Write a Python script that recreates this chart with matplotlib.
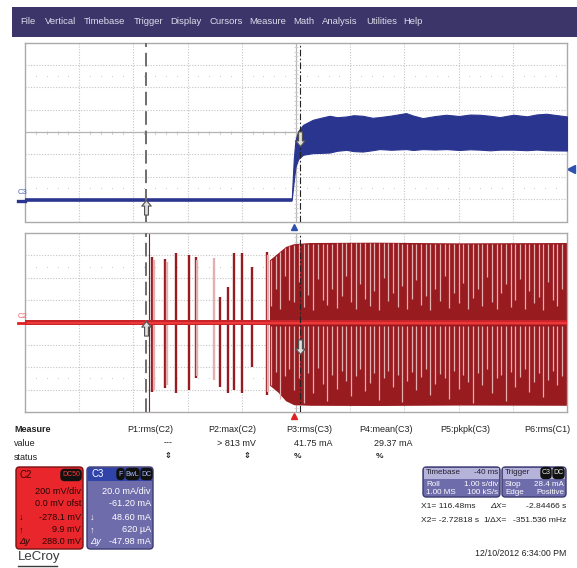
import numpy as np
import matplotlib.pyplot as plt
from matplotlib.patches import Rectangle, FancyBboxPatch
from matplotlib.path import Path
from matplotlib.lines import Line2D
from matplotlib.transforms import blended_transform_factory

plt.rcParams['font.family'] = ['Liberation Sans', 'DejaVu Sans']

W, H = 577, 568

# Roll mode, 1 s/div, trigger delay -40 ms -> 10 divisions on screen
t_left, t_right = -4.96, 5.04
x1_t = 0.11648     # cursor X1 (s)
x2_t = -2.72818    # cursor X2 (s)

# C3: 20 mA/div, offset -61.20 mA
c3_center, c3_div = 61.2, 20.0
c3_x1, c3_x2 = 48.60, 0.62
c3_trig_level = 28.4
# envelope of the switching current after the trigger (mA)
c3_env_t = [-0.04, 0.00, 0.03, 0.08, 0.17, 0.35, 0.50, 0.66, 0.80, 0.97, 1.10, 1.27,
            1.45, 1.58, 1.80, 2.07, 2.20, 2.38, 2.60, 2.81, 3.05, 3.25, 3.43, 3.62,
            3.80, 4.05, 4.30, 4.48, 4.66, 4.85, 5.04]
c3_env_hi = [0.0, 38.0, 54.0, 62.0, 67.7, 72.2, 74.0, 75.8, 74.5, 75.2, 76.3, 75.8,
             74.0, 74.6, 76.0, 78.2, 76.0, 73.7, 75.5, 76.7, 75.6, 76.9, 76.7, 75.8,
             74.6, 76.7, 75.3, 77.0, 77.6, 76.4, 75.2]
c3_env_lo = [0.0, 18.0, 30.0, 37.0, 40.9, 42.4, 42.6, 42.9, 44.5, 45.3, 44.2, 43.8,
             45.0, 46.0, 45.4, 46.0, 45.2, 46.0, 45.6, 46.0, 45.2, 45.8, 45.5, 44.9,
             45.5, 45.5, 45.0, 45.6, 45.0, 44.8, 44.7]

# C2: 200 mV/div, 0 mV offset
c2_div = 200.0
c2_x1, c2_x2 = -278.1, 9.9
# isolated pulses before the burst becomes continuous: time (s), peak (mV), trough (mV)
pulse_t = [-2.68, -2.62, -2.58, -2.37, -2.34, -2.18, -1.94, -1.81, -1.78, -1.48,
           -1.37, -1.21, -1.11, -0.95, -0.78, -0.50, -0.47]
pulse_hi = [900, 585, 560, 567, 540, 620, 603, 585, 560, 576,
            228, 317, 620, 620, 496, 630, 600]
pulse_lo = [-900, -620, -600, -585, -560, -630, -603, -495, -480, -513,
            -573, -630, -603, -630, -397, -647, -620]
pulse_light = [0, 0, 1, 0, 1, 0, 0, 0, 1, 1, 0, 0, 0, 0, 0, 0, 1]
# continuous burst envelope (mV)
burst_t = [-0.45, -0.30, -0.15, 0.00, 0.30, 1.50, 3.00, 5.04]
burst_hi = [560, 620, 680, 705, 715, 718, 712, 715]
burst_lo = [-560, -620, -700, -735, -740, -742, -738, -740]
# lighter gaps between overlapping pulses inside the burst:
# time (s), lowest point of the upper gap, deepest point of the lower gap (mV)
burst_gaps = [-0.42, -0.33, -0.25, -0.16, -0.08, 0.01, 0.10, 0.18, 0.27, 0.36, 0.44,
              0.53, 0.62, 0.70, 0.79, 0.88, 0.96, 1.05, 1.14, 1.22, 1.31, 1.40, 1.48,
              1.57, 1.66, 1.74, 1.83, 1.92, 2.00, 2.09, 2.18, 2.26, 2.35, 2.44, 2.52,
              2.61, 2.70, 2.78, 2.87, 2.96, 3.04, 3.13, 3.22, 3.30, 3.39, 3.48, 3.56,
              3.65, 3.74, 3.82, 3.91, 4.00, 4.08, 4.17, 4.26, 4.34, 4.43, 4.52, 4.60,
              4.69, 4.78, 4.86, 4.95]
gap_top = [150, 300, 120, 420, 200, 180, 360, 140, 250, 110, 390, 200, 160, 300, 130, 240,
           420, 180, 120, 340, 210, 150, 280, 110, 400, 190, 260, 140, 330, 120, 210, 380,
           160, 240, 110, 300, 190, 420, 130, 260, 170, 350, 120, 220, 300, 150, 410, 180,
           120, 260, 340, 140, 200, 390, 120, 280, 170, 230, 110, 360, 200, 150, 300]
gap_bot = [-560, -440, -680, -480, -420, -600, -500, -720, -450, -630, -410, -550, -700,
           -470, -590, -430, -520, -660, -480, -420, -610, -540, -450, -690, -500, -430,
           -580, -470, -710, -520, -440, -600, -490, -420, -650, -550, -460, -500, -680,
           -430, -590, -470, -530, -720, -450, -560, -420, -630, -500, -470, -700, -440,
           -580, -490, -420, -620, -530, -450, -670, -510, -430, -560, -480]

menu_items = ['File', 'Vertical', 'Timebase', 'Trigger', 'Display', 'Cursors',
              'Measure', 'Math', 'Analysis', 'Utilities', 'Help']
menu_x = [20, 45, 84, 134, 170, 209, 249, 293, 322, 366, 403]

meas_names = ['P1:rms(C2)', 'P2:max(C2)', 'P3:rms(C3)', 'P4:mean(C3)', 'P5:pkpk(C3)', 'P6:rms(C1)']
meas_values = ['---', '> 813 mV', '41.75 mA', '29.37 mA', '', '']
meas_status = ['\u21d5', '\u21d5', '%', '%', '', '']
meas_right = [173, 256, 332, 413, 490, 570]
status_x = [168, 247, 297, 379]

blue = '#2a3590'
dark_red = '#981b20'
light_red = '#e2b0b0'
grid_col = '#c4c4c4'

fig = plt.figure(figsize=(W / 100, H / 100), dpi=100)
fig.patch.set_facecolor('white')


def fx(x):
    return x / W


def fy(y):
    return 1 - y / H


def ftext(x, y, s, **kw):
    kw.setdefault('fontsize', 6.5)
    kw.setdefault('color', '#222222')
    kw.setdefault('va', 'center')
    fig.text(fx(x), fy(y), s, **kw)


def graticule(ax, yc, ystep):
    ax.set_xlim(t_left, t_right)
    ax.set_ylim(yc - 4 * ystep, yc + 4 * ystep)
    ax.set_xticks([])
    ax.set_yticks([])
    for s in ax.spines.values():
        s.set_color('#aaaaaa')
        s.set_linewidth(1.0)
    xc = t_left + 5
    for i in range(1, 10):
        if i != 5:
            ax.axvline(t_left + i, color=grid_col, lw=0.8, ls=(0, (1, 1.5)), zorder=0)
    for j in range(-3, 4):
        if j != 0:
            ax.axhline(yc + j * ystep, color=grid_col, lw=0.8, ls=(0, (1, 1.5)), zorder=0)
    ax.axvline(xc, color='#b8b8b8', lw=0.9, zorder=0)
    ax.axhline(yc, color='#b4b4b4', lw=0.9, zorder=0)
    minor_x = [t_left + k * 0.2 for k in range(1, 50) if k % 5]
    minor_y = [yc + k * 0.2 * ystep for k in range(-19, 20) if k % 5]
    ax.vlines(minor_x, yc - 0.07 * ystep, yc + 0.07 * ystep, color='#bcbcbc', lw=0.7, zorder=0)
    ax.hlines(minor_y, xc - 0.035, xc + 0.035, color='#cccccc', lw=0.6, zorder=0)
    for r in (-2.5, 2.5):
        ax.plot(minor_x, [yc + r * ystep] * len(minor_x), ls='none', marker='s',
                ms=0.6, color='#c8c8c8', mew=0, zorder=0)


def arrow_marker(up=True):
    verts = [(0, 0), (1.1, 1.3), (0.45, 1.3), (0.45, 3.4), (-0.45, 3.4), (-0.45, 1.3),
             (-1.1, 1.3), (0, 0)]
    if up:
        verts = [(x, -y) for x, y in verts]
    return Path(verts, closed=True)


def cursors(ax, v1, v2):
    ax.axvline(x2_t, color='#6e6e6e', lw=1.4, dashes=(7, 3), zorder=5)
    ax.axvline(x1_t, color='#222222', lw=0.8, dashes=(6, 2, 1.5, 2), zorder=5)
    ax.plot([x2_t], [v2], marker=arrow_marker(True), ms=21, mfc='#e0e0e0', mec='#505050',
            mew=0.8, ls='none', zorder=8)
    ax.plot([x1_t], [v1], marker=arrow_marker(False), ms=21, mfc='#e0e0e0', mec='#505050',
            mew=0.8, ls='none', zorder=8)


# menu bar
fig.add_artist(Rectangle((fx(12), fy(37)), (W - 12) / W, 30 / H, transform=fig.transFigure,
                         facecolor='#3b3569', edgecolor='none'))
for name, x in zip(menu_items, menu_x):
    ftext(x, 22, name, fontsize=6.8, color='#dcdcec')

# C3 current panel
ax3 = fig.add_axes([fx(25), fy(221.5), 542 / W, 178.8 / H])
graticule(ax3, c3_center, c3_div)
ax3.plot([t_left, c3_env_t[0]], [0, 0], color=blue, lw=2.6, zorder=3, solid_capstyle='butt')
ax3.fill_between(c3_env_t, c3_env_lo, c3_env_hi, color=blue, lw=0.8, edgecolor=blue, zorder=3)
cursors(ax3, c3_x1, c3_x2)
bt = blended_transform_factory(ax3.transData, ax3.transAxes)
ax3.plot([0], [-0.032], transform=bt, marker='^', ms=5, color='#3050b0', clip_on=False)
bt = blended_transform_factory(ax3.transAxes, ax3.transData)
ax3.plot([1.008], [c3_trig_level], transform=bt, marker='<', ms=5.5, color='#3050b0', clip_on=False)
fig.add_artist(Line2D([fx(18), fx(25)], [fy(201), fy(201)], color=blue, lw=2.4))
ftext(18, 193, 'C3', fontsize=5.5, color='#4a62b8')

# C2 voltage panel
ax2 = fig.add_axes([fx(25), fy(412), 542 / W, 179 / H])
graticule(ax2, 0.0, c2_div)
ax2.fill_between(burst_t, burst_lo, burst_hi, color=dark_red, lw=0, zorder=2)
gap_hi = np.interp(burst_gaps, burst_t, burst_hi) - 10
ax2.vlines(burst_gaps, gap_top, gap_hi, color=light_red, lw=0.9, zorder=2)
ax2.vlines(burst_gaps, -30, gap_bot, color=light_red, lw=0.9, zorder=2)
for t, hi, lo, lt in zip(pulse_t, pulse_hi, pulse_lo, pulse_light):
    ax2.vlines(t, lo, hi, color=light_red if lt else dark_red,
               lw=0.8 if hi > 800 else 1.7, zorder=2)
ax2.fill_between([t_left, t_right], [-26, -26], [26, 26], color='#c8242a', lw=0, zorder=3)
ax2.plot([t_left, t_right], [0, 0], color='#ee3a3a', lw=1.4, zorder=3)
cursors(ax2, c2_x1, c2_x2)
bt = blended_transform_factory(ax2.transData, ax2.transAxes)
ax2.plot([0], [-0.022], transform=bt, marker='^', ms=5, color='#e02020', clip_on=False)
fig.add_artist(Line2D([fx(18), fx(25)], [fy(323), fy(323)], color='#e02020', lw=2.0))
ftext(18, 316, 'C2', fontsize=5.5, color='#f06060')

# measurement table
ftext(14, 430, 'Measure', fontweight='bold')
ftext(14, 443, 'value')
ftext(14, 457, 'status')
for name, val, x in zip(meas_names, meas_values, meas_right):
    ftext(x, 430, name, ha='right')
    if val:
        ftext(x, 443, val, ha='right')
for st, x in zip(meas_status, status_x):
    ftext(x, 457, st, ha='center', fontweight='bold', fontsize=6)


def box(x0, y0, x1, y1, face, edge):
    fig.add_artist(FancyBboxPatch((fx(x0), fy(y1)), (x1 - x0) / W, (y1 - y0) / H,
                                  boxstyle='round,pad=0,rounding_size=0.006',
                                  transform=fig.transFigure, facecolor=face,
                                  edgecolor=edge, lw=1.0))


def badge(x0, x1, y, s, fg):
    box(x0, y - 5.5, x1, y + 5.5, '#111111', '#111111')
    ftext((x0 + x1) / 2, y, s, ha='center', color=fg, fontsize=5)


# channel descriptor boxes
box(16, 467, 83, 549, '#e8262b', '#7a1010')
ftext(20, 475, 'C2', color='#3a0505', fontsize=7)
badge(61, 81, 475, 'DC50', '#ff3a3a')
c2_lines = ['200 mV/div', '0.0 mV ofst', '-278.1 mV', '9.9 mV', '288.0 mV']
c3_lines = ['20.0 mA/div', '-61.20 mA', '48.60 mA', '620 \u00b5A', '-47.98 mA']
rows_y = [491, 503.5, 517, 530, 542]
for s, y in zip(c2_lines, rows_y):
    ftext(81, y, s, ha='right', color='#2a0505', fontsize=6.6)
for s, y in zip(['\u2193', '\u2191', '\u0394y'], rows_y[2:]):
    ftext(19, y, s, color='#2a0505', fontsize=6.6,
          fontstyle='italic' if 'y' in s else 'normal')

box(87, 467, 153, 549, '#6f6cab', '#3a3a70')
fig.add_artist(Rectangle((fx(88), fy(481)), 64 / W, 13 / H, transform=fig.transFigure,
                         facecolor='#2f43a8', edgecolor='none'))
ftext(91, 474, 'C3', color='white', fontsize=7)
badge(117, 124, 474, 'F', '#a8bcff')
badge(126, 139, 474, 'BwL', '#a8bcff')
badge(141, 152, 474, 'DC', '#a8bcff')
for s, y in zip(c3_lines, rows_y):
    ftext(151, y, s, ha='right', color='white', fontsize=6.6)
for s, y in zip(['\u2193', '\u2191', '\u0394y'], rows_y[2:]):
    ftext(90, y, s, color='white', fontsize=6.6,
          fontstyle='italic' if 'y' in s else 'normal')

# timebase and trigger boxes
box(423, 467, 500, 497, '#6f6cab', '#3a3a70')
fig.add_artist(Rectangle((fx(424), fy(478.5)), 75 / W, 10.5 / H, transform=fig.transFigure,
                         facecolor='#b6b3da', edgecolor='none'))
tb_kw = dict(fontsize=5.8)
ftext(426, 473, 'Timebase', color='#202030', **tb_kw)
ftext(498, 473, '-40 ms', ha='right', color='#202030', **tb_kw)
ftext(426, 484.5, 'Roll', color='white', **tb_kw)
ftext(498, 484.5, '1.00 s/div', ha='right', color='white', **tb_kw)
ftext(426, 492.5, '1.00 MS', color='white', **tb_kw)
ftext(498, 492.5, '100 kS/s', ha='right', color='white', **tb_kw)

box(502, 467, 566, 497, '#6f6cab', '#3a3a70')
fig.add_artist(Rectangle((fx(503), fy(478.5)), 62 / W, 10.5 / H, transform=fig.transFigure,
                         facecolor='#b6b3da', edgecolor='none'))
ftext(505, 473, 'Trigger', color='#202030', **tb_kw)
badge(541, 551, 473, 'C3', '#e8e8e8')
badge(553, 564, 473, 'DC', '#e8e8e8')
ftext(505, 484.5, 'Stop', color='white', **tb_kw)
ftext(564, 484.5, '28.4 mA', ha='right', color='white', **tb_kw)
ftext(505, 492.5, 'Edge', color='white', **tb_kw)
ftext(564, 492.5, 'Positive', ha='right', color='white', **tb_kw)

# cursor readouts
rd_kw = dict(fontsize=6.1)
ftext(421, 506, 'X1= 116.48ms', **rd_kw)
ftext(490, 506, '\u0394X=', fontstyle='italic', **rd_kw)
ftext(566, 506, '-2.84466 s', ha='right', **rd_kw)
ftext(421, 521, 'X2= -2.72818 s', **rd_kw)
ftext(483, 521, '1/\u0394X=', **rd_kw)
ftext(566, 521, '-351.536 mHz', ha='right', **rd_kw)

ftext(566, 553, '12/10/2012 6:34:00 PM', ha='right', fontsize=6.3)
ftext(18, 557, 'LeCroy', fontsize=9.5, color='#3a3a3a')
fig.add_artist(Line2D([fx(18), fx(57)], [fy(566), fy(566)], color='#3a3a3a', lw=1.0))

fig.savefig('out.png', dpi=100)
